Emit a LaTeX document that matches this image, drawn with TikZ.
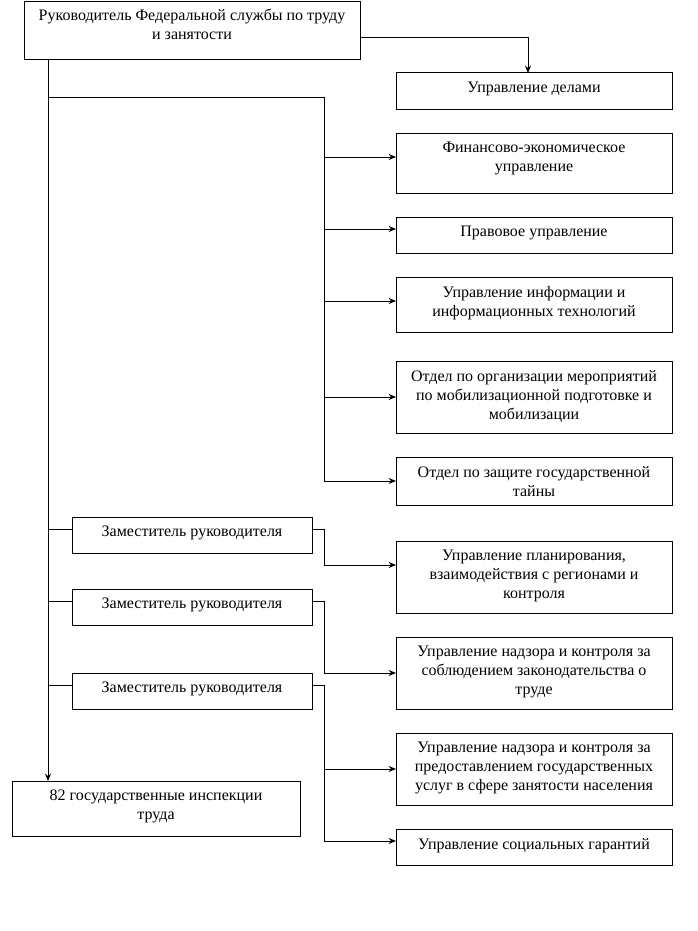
\documentclass[tikz,border=0pt]{standalone}
\usepackage{fontspec}
\setmainfont{Liberation Serif}
\usetikzlibrary{arrows.meta,calc}
\newdimen\pxu \pxu=0.75pt
\begin{document}
\begin{tikzpicture}[x=0.75pt,y=-0.75pt,
  box/.style={draw,line width=0.75pt,anchor=north west,inner sep=0pt,outer sep=0pt},
  txt/.style={anchor=north,inner sep=0pt,align=center,font=\fontsize{12}{14.25}\selectfont},
  conn/.style={line width=0.75pt},
  arr/.style={conn,-{Stealth[length=5.5pt,width=4.5pt]}}]
\useasboundingbox (0,0) rectangle (697,931);
% boxes
\node[box,minimum width=336\pxu,minimum height=58\pxu] (top) at (24,2) {};
\node[box,minimum width=276\pxu,minimum height=36\pxu] (delo) at (396,73) {};
\node[box,minimum width=276\pxu,minimum height=60\pxu] (fin) at (396,133) {};
\node[box,minimum width=276\pxu,minimum height=36\pxu] (prav) at (396,217) {};
\node[box,minimum width=276\pxu,minimum height=55\pxu] (info) at (396,277) {};
\node[box,minimum width=276\pxu,minimum height=72\pxu] (mob) at (396,361) {};
\node[box,minimum width=276\pxu,minimum height=48\pxu] (zash) at (396,457) {};
\node[box,minimum width=240\pxu,minimum height=36\pxu] (zam1) at (72,517) {};
\node[box,minimum width=240\pxu,minimum height=36\pxu] (zam2) at (72,589) {};
\node[box,minimum width=240\pxu,minimum height=36\pxu] (zam3) at (72,673) {};
\node[box,minimum width=276\pxu,minimum height=72\pxu] (plan) at (396,541) {};
\node[box,minimum width=276\pxu,minimum height=72\pxu] (nadzA) at (396,637) {};
\node[box,minimum width=276\pxu,minimum height=72\pxu] (nadzB) at (396,733) {};
\node[box,minimum width=276\pxu,minimum height=36\pxu] (soc) at (396,829) {};
\node[box,minimum width=288\pxu,minimum height=55\pxu] (insp) at (12,781) {};
% texts
\node[txt] (tTop) at ($(top.north)+(0,7)$) {Руководитель Федеральной службы по труду\\и занятости};
\node[txt] (tDelo) at ($(delo.north)+(0,9)$) {Управление делами};
\node[txt] (tFin) at ($(fin.north)+(0,9)$) {Финансово-экономическое\\управление};
\node[txt] (tPrav) at ($(prav.north)+(0,9)$) {Правовое управление};
\node[txt] (tInfo) at ($(info.north)+(0,9)$) {Управление информации и\\информационных технологий};
\node[txt] (tMob) at ($(mob.north)+(0,9)$) {Отдел по организации мероприятий\\по мобилизационной подготовке и\\мобилизации};
\node[txt] (tZash) at ($(zash.north)+(0,9)$) {Отдел по защите государственной\\тайны};
\node[txt] (tZam1) at ($(zam1.north)+(0,9)$) {Заместитель руководителя};
\node[txt] (tZam2) at ($(zam2.north)+(0,9)$) {Заместитель руководителя};
\node[txt] (tZam3) at ($(zam3.north)+(0,9)$) {Заместитель руководителя};
\node[txt] (tPlan) at ($(plan.north)+(0,9)$) {Управление планирования,\\взаимодействия с регионами и\\контроля};
\node[txt] (tNadzA) at ($(nadzA.north)+(0,9)$) {Управление надзора и контроля за\\соблюдением законодательства о\\труде};
\node[txt] (tNadzB) at ($(nadzB.north)+(0,9)$) {Управление надзора и контроля за\\предоставлением государственных\\услуг в сфере занятости населения};
\node[txt] (tSoc) at ($(soc.north)+(0,9)$) {Управление социальных гарантий};
\node[txt] (tInsp) at ($(insp.north)+(0,9)$) {82 государственные инспекции\\труда};
% lane coordinates
\coordinate (L) at (48,0);
\coordinate (R) at (324,0);
\coordinate (D) at (528,0);
\coordinate (y38) at (0,38);
\coordinate (y97) at (0,97);
\coordinate (y157) at (0,157);
\coordinate (y229) at (0,229);
\coordinate (y301) at (0,301);
\coordinate (y397) at (0,397);
\coordinate (y481) at (0,481);
\coordinate (y529) at (0,529);
\coordinate (y565) at (0,565);
\coordinate (y601) at (0,601);
\coordinate (y673) at (0,673);
\coordinate (y685) at (0,685);
\coordinate (y769) at (0,769);
\coordinate (y841) at (0,841);
% connectors
\draw[arr] (top.east |- y38) -| (D |- delo.north);
\draw[arr] (L |- top.south) -- (L |- insp.north);
\draw[conn] (L |- y97) -| (R |- y481);
\draw[arr] (R |- y157) -- (fin.west |- y157);
\draw[arr] (R |- y229) -- (prav.west |- y229);
\draw[arr] (R |- y301) -- (info.west |- y301);
\draw[arr] (R |- y397) -- (mob.west |- y397);
\draw[arr] (R |- y481) -- (zash.west |- y481);
\draw[conn] (L |- y529) -- (zam1.west |- y529);
\draw[conn] (L |- y601) -- (zam2.west |- y601);
\draw[conn] (L |- y685) -- (zam3.west |- y685);
\draw[arr] (zam1.east |- y529) -| (R |- y565) -- (plan.west |- y565);
\draw[arr] (zam2.east |- y601) -| (R |- y673) -- (nadzA.west |- y673);
\draw[arr] (zam3.east |- y685) -| (R |- y841) -- (soc.west |- y841);
\draw[arr] (R |- y769) -- (nadzB.west |- y769);
\end{tikzpicture}
\end{document}
